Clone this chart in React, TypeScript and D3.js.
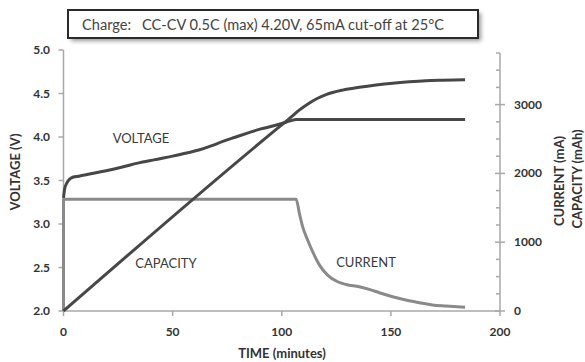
import React, { useEffect, useRef } from 'react';
import { select, scaleLinear, line, curveMonotoneX, range } from 'd3';

// charge curve
const voltageTime = [0, 0.5, 1.5, 3, 4.5, 7, 12, 19, 27, 34, 42, 50, 57, 62, 68, 73, 79, 85, 90, 95, 100, 104, 106.6, 184];
const voltage = [3.3, 3.4, 3.47, 3.52, 3.54, 3.55, 3.575, 3.61, 3.655, 3.7, 3.74, 3.78, 3.82, 3.85, 3.9, 3.95, 4.0, 4.05, 4.09, 4.12, 4.155, 4.185, 4.2, 4.2];

const currentTime = [0, 106.6, 108.1, 109.6, 111.9, 114.2, 117.3, 121, 125.6, 129.5, 135.5, 140.1, 144.7, 150.8, 156.9, 163, 169, 175.2, 184];
const current = [1625, 1625, 1416, 1222, 1029, 860, 667, 522, 425, 386, 352, 314, 266, 208, 159, 121, 87, 72, 55];

const capacityTime = [0, 98, 104, 108, 112, 116, 120.3, 127.9, 135.5, 143.2, 150.8, 158.4, 166, 173.6, 184];
const capacity = [0, 2654, 2810, 2920, 3010, 3085, 3145, 3210, 3251, 3285, 3312, 3332, 3347, 3354, 3360];

const timeTicks = [0, 50, 100, 150, 200];
const voltTicks = [2.0, 2.5, 3.0, 3.5, 4.0, 4.5, 5.0];
const mATicks = [0, 1000, 2000, 3000];

const title = 'CC-CV 0.5C (max) 4.20V, 65mA cut-off at 25°C';

export default function App() {
    const ref = useRef<SVGSVGElement>(null);

    useEffect(() => {
        const width = 585;
        const height = 362;
        const m = { l: 63.5, r: 500, t: 50, b: 311 };
        const font = 'Lato, "Open Sans", sans-serif';
        const axisColor = '#a8a8a8';

        const svg = select(ref.current);
        svg.selectAll('*').remove();
        svg.attr('width', width).attr('height', height);

        const x = scaleLinear().domain([0, 200]).range([m.l, m.r]);
        const yV = scaleLinear().domain([2, 5]).range([m.b, m.t]);
        const yA = scaleLinear().domain([0, 3750]).range([m.b, m.t + 3]);

        // title box with shadow
        const defs = svg.append('defs');
        defs.append('filter').attr('id', 'shadow')
            .attr('x', '-10%').attr('y', '-50%').attr('width', '120%').attr('height', '200%')
            .append('feGaussianBlur').attr('stdDeviation', 2);
        svg.append('rect').attr('x', 71).attr('y', 13).attr('width', 410).attr('height', 28)
            .attr('fill', '#999').attr('filter', 'url(#shadow)');
        svg.append('rect').attr('x', 68).attr('y', 10).attr('width', 410).attr('height', 28)
            .attr('fill', '#fff').attr('stroke', '#2a2a2a').attr('stroke-width', 2);
        svg.append('text').attr('x', 82).attr('y', 29.5).attr('font-family', font).attr('font-size', 14.6)
            .attr('fill', '#444').text('Charge:');
        svg.append('text').attr('x', 142).attr('y', 29.5).attr('font-family', font).attr('font-size', 14.6)
            .attr('fill', '#444').text(title);

        // axes
        const axes = svg.append('g').attr('stroke', axisColor).attr('stroke-width', 1.5);
        axes.append('line').attr('x1', x(0)).attr('x2', x(0)).attr('y1', yV(5)).attr('y2', yV(2));
        axes.append('line').attr('x1', x(200)).attr('x2', x(200)).attr('y1', yA(3750)).attr('y2', yA(0));
        axes.append('line').attr('x1', x(0)).attr('x2', x(200)).attr('y1', m.b).attr('y2', m.b);

        axes.selectAll('.vt').data(voltTicks).join('line').attr('class', 'vt')
            .attr('x1', x(0) - 5).attr('x2', x(0)).attr('y1', d => yV(d)).attr('y2', d => yV(d));
        axes.selectAll('.tt').data(timeTicks).join('line').attr('class', 'tt')
            .attr('x1', d => x(d)).attr('x2', d => x(d)).attr('y1', m.b).attr('y2', m.b + 5);
        axes.selectAll('.at').data(range(0, 3751, 250)).join('line').attr('class', 'at')
            .attr('x1', d => x(200) - (d % 1000 === 0 ? 5 : 4))
            .attr('x2', d => x(200) + (d % 1000 === 0 ? 5 : 0))
            .attr('y1', d => yA(d)).attr('y2', d => yA(d));

        const tickText = svg.append('g').attr('font-family', font).attr('font-size', 12)
            .attr('font-weight', 'bold').attr('fill', '#333');
        tickText.selectAll('.vl').data(voltTicks).join('text').attr('class', 'vl')
            .attr('x', 50).attr('y', d => yV(d) + 4).attr('text-anchor', 'end')
            .text(d => d.toFixed(1));
        tickText.selectAll('.tl').data(timeTicks).join('text').attr('class', 'tl')
            .attr('x', d => x(d)).attr('y', 336).attr('text-anchor', 'middle')
            .text(d => d);
        tickText.selectAll('.al').data(mATicks).join('text').attr('class', 'al')
            .attr('x', 514).attr('y', d => yA(d) + 4).attr('text-anchor', 'start')
            .text(d => d);

        // axis titles
        const titles = svg.append('g').attr('font-family', font).attr('font-size', 13)
            .attr('font-weight', 'bold').attr('fill', '#333').attr('text-anchor', 'middle');
        titles.append('text').attr('x', 282).attr('y', 358).text('TIME (minutes)');
        titles.append('text').attr('transform', 'translate(20,172) rotate(-90)').text('VOLTAGE (V)');
        titles.append('text').attr('transform', 'translate(564,181) rotate(-90)').text('CURRENT (mA)');
        titles.append('text').attr('transform', 'translate(582,179) rotate(-90)').text('CAPACITY (mAh)');

        // series
        const vLine = line<number>().x((d, i) => x(voltageTime[i])).y(d => yV(d)).curve(curveMonotoneX);
        const cLine = line<number>().x((d, i) => x(capacityTime[i])).y(d => yA(d)).curve(curveMonotoneX);
        const iLine = line<number>().x((d, i) => x(currentTime[i])).y(d => yA(d)).curve(curveMonotoneX);

        // current starts with a vertical step from 0 at t = 0
        const iPath = `M${x(0)},${yA(0)}L` + (iLine(current) || '').slice(1);

        svg.append('path').attr('d', iPath).attr('fill', 'none')
            .attr('stroke', '#8a8a8a').attr('stroke-width', 3).attr('stroke-linejoin', 'round');
        svg.append('path').attr('d', vLine(voltage)).attr('fill', 'none')
            .attr('stroke', '#474747').attr('stroke-width', 3);
        svg.append('path').attr('d', cLine(capacity)).attr('fill', 'none')
            .attr('stroke', '#474747').attr('stroke-width', 3);

        // series labels
        const labels = svg.append('g').attr('font-family', font).attr('font-size', 13)
            .attr('fill', '#3a3a3a').attr('text-anchor', 'middle');
        labels.append('text').attr('x', 141).attr('y', 143).text('VOLTAGE');
        labels.append('text').attr('x', 166).attr('y', 268).text('CAPACITY');
        labels.append('text').attr('x', 366).attr('y', 267).text('CURRENT');
    }, []);

    return <svg ref={ref} style={{ position: 'absolute', left: 0, top: 0, background: '#fff' }} />;
}
